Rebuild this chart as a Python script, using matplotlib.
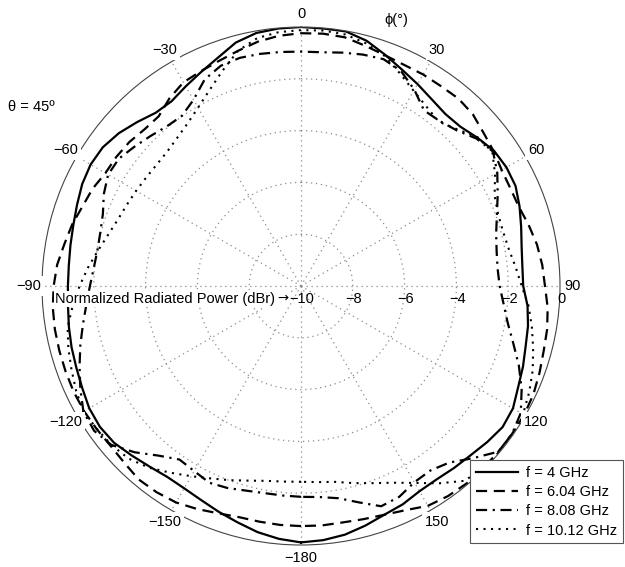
import numpy as np
import matplotlib.pyplot as plt

plt.rcParams['font.family'] = ['Liberation Sans', 'DejaVu Sans']

# azimuth cut at theta = 45 deg, phi sampled every 5 deg
phi_deg = np.arange(-180, 181, 5)

# normalized radiated power (dBr)
p_4ghz = [
    -0.10, -0.20, -0.35, -0.55, -0.72, -0.88, -0.98, -1.00, -0.90,
    -0.75, -0.58, -0.52, -0.56, -0.68, -0.77, -0.83, -0.90, -0.97,
    -1.00, -1.00, -0.96, -0.90, -0.80, -0.68, -0.62, -0.66, -0.82,
    -1.05, -1.27, -1.29, -1.10, -0.88, -0.62, -0.27, -0.08, -0.02,
    0.00, -0.02, -0.02, -0.20, -0.50, -0.78, -1.00, -1.20, -1.33,
    -1.30, -1.10, -0.90, -0.84, -0.86, -1.02, -1.20, -1.35, -1.42,
    -1.42, -1.22, -1.10, -1.02, -0.88, -0.75, -0.55, -0.50, -0.62,
    -0.75, -0.82, -0.88, -0.85, -0.70, -0.60, -0.42, -0.25, -0.15,
    -0.10,
]
p_6ghz = [
    -0.73, -0.74, -0.76, -0.76, -0.66, -0.50, -0.35, -0.28, -0.25,
    -0.35, -0.40, -0.37, -0.33, -0.32, -0.33, -0.34, -0.35, -0.38,
    -0.45, -0.55, -0.72, -0.85, -1.02, -1.12, -1.28, -1.30, -1.35,
    -1.45, -1.45, -1.15, -0.92, -0.85, -0.75, -0.60, -0.42, -0.30,
    -0.24, -0.22, -0.25, -0.40, -0.52, -0.58, -0.57, -0.58, -0.55,
    -0.62, -0.80, -0.92, -1.05, -1.08, -1.05, -0.90, -0.75, -0.65,
    -0.58, -0.44, -0.35, -0.30, -0.20, -0.10, -0.05, -0.05, -0.05,
    -0.05, -0.05, -0.10, -0.20, -0.45, -0.60, -0.68, -0.73, -0.72,
    -0.73,
]
p_8ghz = [
    -1.86, -1.88, -1.88, -1.82, -1.70, -1.62, -1.75, -1.82, -1.45,
    -0.92, -0.45, -0.25, -0.30, -0.60, -0.90, -1.18, -1.45, -1.68,
    -1.85, -1.97, -2.02, -1.98, -1.86, -1.60, -1.40, -1.42, -1.62,
    -1.80, -1.95, -1.98, -1.70, -1.20, -0.95, -0.88, -0.90, -0.93,
    -0.95, -0.94, -0.85, -0.75, -0.68, -0.85, -1.25, -1.72, -1.68,
    -1.50, -1.15, -0.95, -1.25, -1.62, -1.95, -2.20, -2.33, -2.38,
    -2.33, -2.15, -1.90, -1.52, -1.05, -0.60, -0.20, -0.05, -0.05,
    -0.60, -1.10, -1.30, -1.25, -1.02, -0.95, -1.35, -1.68, -1.82,
    -1.86,
]
p_10ghz = [
    -2.44, -2.42, -2.36, -2.22, -2.02, -1.80, -1.52, -1.20, -0.85,
    -0.58, -0.45, -0.38, -0.30, -0.42, -0.57, -0.70, -0.85, -1.15,
    -1.45, -1.75, -2.05, -2.30, -2.48, -2.58, -2.65, -2.70, -2.72,
    -2.68, -2.55, -2.35, -2.05, -1.65, -1.15, -0.60, -0.28, -0.16,
    -0.12, -0.10, -0.14, -0.30, -0.55, -0.95, -1.30, -1.55, -1.72,
    -1.45, -1.08, -0.98, -1.35, -1.75, -1.90, -1.92, -1.85, -1.68,
    -1.48, -1.18, -0.95, -0.72, -0.48, -0.28, -0.10, -0.02, -0.02,
    -0.05, -0.18, -0.70, -1.22, -1.62, -1.90, -2.12, -2.32, -2.40,
    -2.44,
]

series_labels = ['f = 4 GHz', 'f = 6.04 GHz', 'f = 8.08 GHz', 'f = 10.12 GHz']
angle_ticks = [0, 30, 60, 90, 120, 150, 180, -150, -120, -90, -60, -30]
angle_labels = ['0', '30', '60', '90', '120', '150', '\u2212180',
                '\u2212150', '\u2212120', '\u221290', '\u221260', '\u221230']
r_ticks = [-10, -8, -6, -4, -2, 0]

W, H = 625, 567
FS = 10.5


def fx(x, y):
    # pixel position -> figure fraction
    return x / W, 1 - y / H


fig = plt.figure(figsize=(W / 100, H / 100), dpi=100)
ax = fig.add_axes([42 / W, 22 / H, 518 / W, 518 / H], projection='polar')

ax.set_theta_zero_location('N')
ax.set_theta_direction(-1)
ax.set_ylim(-10, 0)

# dotted polar grid
ax.set_thetagrids(np.arange(0, 360, 30), labels=[''] * 12)
ax.set_rgrids([-8, -6, -4, -2], labels=[''] * 4)
ax.grid(True, color='#8c8c8c', linestyle=(0, (1, 3)), linewidth=0.9)
ax.spines['polar'].set_color('#444444')
ax.spines['polar'].set_linewidth(0.8)
ax.tick_params(length=0)

th = np.deg2rad(phi_deg)
ax.plot(th, p_4ghz, color='black', lw=1.6, linestyle='-', label=series_labels[0])
ax.plot(th, p_6ghz, color='black', lw=1.6, linestyle=(0, (5, 3)), label=series_labels[1])
ax.plot(th, p_8ghz, color='black', lw=1.6, linestyle=(0, (5, 2.5, 1, 2.5)), label=series_labels[2])
ax.plot(th, p_10ghz, color='black', lw=1.5, linestyle=(0, (1, 2.6)), label=series_labels[3])

# angle labels sit just outside the rim, masking it
for a, lab in zip(angle_ticks, angle_labels):
    ax.text(np.deg2rad(a), 0.5, lab, ha='center', va='center', fontsize=FS,
            clip_on=False, zorder=4,
            bbox=dict(boxstyle='square,pad=0.2', facecolor='white', edgecolor='none'))

# radial labels under the 90 deg spoke
for r in r_ticks:
    lab = str(r).replace('-', '\u2212')
    x = 301 + 259 * (r + 10) / 10
    fig.text(*fx(x + 1, 299), lab, ha='center', va='center', fontsize=FS, zorder=5)

white = dict(boxstyle='square,pad=0.1', facecolor='white', edgecolor='none')
fig.text(*fx(275, 299), 'Normalized Radiated Power (dBr)', ha='right', va='center',
         fontsize=FS, zorder=5, bbox=white)
fig.text(*fx(283, 298), '\u2192', ha='center', va='center', fontsize=FS - 1,
         family='DejaVu Sans', zorder=5, bbox=white)
fig.text(*fx(8, 107), '\u03b8 = 45\u00ba', ha='left', va='center', fontsize=FS)
fig.text(*fx(396, 20), '\u03d5(\u00b0)', ha='center', va='center', fontsize=FS)

leg = ax.legend(loc='upper left', bbox_to_anchor=fx(470, 460), bbox_transform=fig.transFigure,
                fontsize=FS, handlelength=2.9, handletextpad=0.55, labelspacing=0.36,
                borderpad=0.4, borderaxespad=0, fancybox=False, framealpha=1,
                edgecolor='#555555')
leg.get_frame().set_linewidth(0.8)

fig.savefig('out.png', dpi=100)
